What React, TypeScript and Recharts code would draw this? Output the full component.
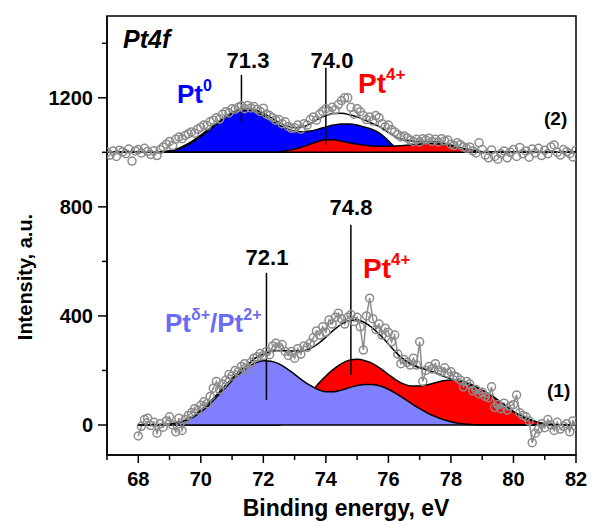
import React from "react";
import { ComposedChart, Area, Line, XAxis, YAxis, ReferenceLine, ReferenceArea } from "recharts";

const FONT = "Arial, 'Liberation Sans', sans-serif";

// energy grids (eV)
const range = (start: number, step: number, n: number) =>
    Array.from({ length: n }, (_, i) => Math.round((start + i * step) * 100) / 100);

const upperFitX = range(67, 0.25, 61);
const lowerFitX = range(68, 0.25, 57);
const upperRawX = range(67, 0.1, 151);
const lowerRawX = range(68, 0.1, 141);

// spectrum (2), fitted components on a 1000 offset
const pt0Fit = [
    1000, 1000, 1000, 1000, 1000, 1000, 1000, 1001,
    1004, 1010, 1022, 1038, 1058, 1080, 1103, 1125,
    1143, 1154, 1155, 1148, 1135, 1118, 1101, 1087,
    1078, 1075, 1078, 1085, 1093, 1100, 1104, 1104,
    1100, 1092, 1083, 1068, 1042, 1016, 1006, 1001,
    1000, 1000, 1000, 1000, 1000, 1000, 1000, 1000,
    1000, 1000, 1000, 1000, 1000, 1000, 1000, 1000,
    1000, 1000, 1000, 1000, 1000,
];
const pt4UpperFit = [
    1000, 1000, 1000, 1000, 1000, 1000, 1000, 1000,
    1000, 1000, 1000, 1000, 1000, 1000, 1000, 1000,
    1000, 1000, 1000, 1000, 1000, 1000, 1002, 1006,
    1012, 1020, 1030, 1040, 1046, 1046, 1041, 1035,
    1030, 1026, 1023, 1022, 1022, 1023, 1025, 1028,
    1031, 1032, 1032, 1029, 1024, 1017, 1010, 1005,
    1002, 1000, 1000, 1000, 1000, 1000, 1000, 1000,
    1000, 1000, 1000, 1000, 1000,
];
const upperEnvelope = [
    1000, 1000, 1000, 1000, 1000, 1000, 1000, 1002,
    1006, 1013, 1026, 1043, 1063, 1085, 1107, 1128,
    1146, 1157, 1160, 1155, 1143, 1127, 1110, 1097,
    1090, 1093, 1105, 1122, 1135, 1142, 1143, 1138,
    1130, 1118, 1105, 1092, 1073, 1055, 1046, 1042,
    1040, 1040, 1039, 1034, 1027, 1019, 1012, 1006,
    1002, 1000, 1000, 1000, 1000, 1000, 1000, 1000,
    1000, 1000, 1000, 1000, 1000,
];
const upperRaw = [
    1000, 990, 1005, 985, 1008, 1002, 995, 1012, 968, 1005,
    1010, 998, 1015, 1003, 992, 1006, 988, 1010, 1020, 1030,
    1040, 1025, 1048, 1056, 1050, 1062, 1068, 1075, 1070, 1085,
    1092, 1100, 1098, 1112, 1118, 1127, 1122, 1140, 1149, 1145,
    1160, 1158, 1165, 1170, 1160, 1172, 1163, 1168, 1158, 1150,
    1162, 1140, 1135, 1127, 1118, 1120, 1105, 1112, 1095, 1088,
    1090, 1100, 1085, 1105, 1100, 1120, 1130, 1118, 1140, 1150,
    1160, 1152, 1165, 1156, 1175, 1190, 1200, 1200, 1165, 1140,
    1160, 1149, 1135, 1120, 1130, 1115, 1135, 1127, 1105, 1094,
    1100, 1083, 1075, 1065, 1057, 1060, 1053, 1045, 1040, 1048,
    1038, 1050, 1045, 1052, 1040, 1048, 1038, 1050, 1042, 1045,
    1030, 1025, 1035, 1028, 1020, 1015, 1020, 1005, 998, 1035,
    1010, 990, 980, 1009, 985, 975, 995, 1005, 980, 1000,
    1010, 985, 1018, 995, 1005, 982, 1012, 998, 1015, 988,
    1008, 995, 1020, 1027, 1000, 990, 1010, 1002, 995, 983,
    1008,
];

// spectrum (1)
const ptDeltaFit = [
    0, 0, 0, 1, 3, 7, 15, 28,
    48, 72, 102, 132, 162, 190, 212, 228,
    236, 234, 224, 207, 186, 164, 145, 130,
    122, 122, 128, 137, 145, 149, 149, 143,
    131, 115, 97, 78, 60, 44, 31, 20,
    12, 6, 3, 1, 0, 0, 0, 0,
    0, 0, 0, 0, 0, 0, 0, 0,
    0,
];
const pt4LowerFit = [
    0, 0, 0, 0, 0, 0, 0, 0,
    0, 0, 0, 0, 0, 0, 0, 0,
    0, 0, 0, 15, 40, 75, 112, 150,
    180, 205, 225, 238, 241, 236, 225, 207,
    185, 165, 150, 143, 143, 148, 155, 162,
    165, 163, 156, 143, 127, 110, 90, 68,
    48, 32, 20, 11, 5, 2, 0, 0,
    0,
];
const lowerEnvelope = [
    0, 0, 0, 1, 3, 8, 17, 32,
    55, 80, 110, 140, 170, 198, 222, 245,
    260, 270, 273, 272, 271, 272, 280, 298,
    322, 348, 370, 383, 385, 375, 355, 328,
    297, 265, 240, 222, 210, 202, 192, 180,
    170, 162, 152, 140, 127, 112, 92, 70,
    50, 33, 20, 11, 5, 2, 0, 0,
    0,
];
const lowerRaw = [
    -40, -5, 20, 25, -2, 10, -30, 5, -8, 15,
    30, 0, -25, 25, -20, 20, 35, 45, 60, 55,
    72, 85, 78, 105, 135, 160, 130, 150, 165, 185,
    180, 200, 195, 215, 225, 205, 230, 245, 250, 262,
    255, 270, 258, 290, 300, 285, 295, 270, 255, 270,
    245, 280, 260, 290, 285, 300, 320, 345, 330, 360,
    340, 385, 370, 395, 410, 390, 370, 395, 405, 380,
    395, 360, 275, 400, 465, 390, 350, 370, 330, 355,
    340, 305, 330, 260, 225, 240, 230, 220, 245, 220,
    305, 160, 200, 215, 205, 225, 200, 195, 210, 190,
    195, 180, 175, 165, 140, 160, 150, 125, 130, 115,
    120, 105, 100, 140, 65, 75, 60, 80, 55, 70,
    75, 110, 45, 35, 30, 15, -65, -30, -15, 5,
    -10, 20, 0, -20, 10, -15, -5, 5, -25, 15,
    -5,
];

const xTicks = range(67, 1, 16);
const yTicks = [0, 200, 400, 600, 800, 1000, 1200, 1400];

const zip = (xs: number[], ys: number[]) => xs.map((x, i) => ({ x, y: ys[i] }));

const XTick = (props: any) => {
    const { x, y, payload } = props;
    const major = payload.value % 2 === 0;
    return (
        <g>
            <line x1={x} x2={x} y1={y} y2={y + (major ? 8 : 5)} stroke="#000" strokeWidth={1.5} />
            {major && (
                <text x={x} y={y + 31} textAnchor="middle" fontFamily={FONT} fontWeight="bold" fontSize={20} fill="#000">
                    {payload.value}
                </text>
            )}
        </g>
    );
};

const YTick = (props: any) => {
    const { x, y, payload } = props;
    const major = payload.value % 400 === 0;
    return (
        <g>
            <line x1={x} x2={x - (major ? 9 : 5)} y1={y} y2={y} stroke="#000" strokeWidth={1.5} />
            {major && (
                <text x={x - 14} y={y + 7} textAnchor="end" fontFamily={FONT} fontWeight="bold" fontSize={20} fill="#000">
                    {payload.value}
                </text>
            )}
        </g>
    );
};

export default function App() {
    const common = { isAnimationActive: false, dot: false, activeDot: false } as const;

    return (
        <div style={{ position: "absolute", left: 0, top: 0, width: 592, height: 522, background: "#fff" }}>
            <ComposedChart width={592} height={522} margin={{ top: 16, right: 16, bottom: 0, left: 0 }}>
                <XAxis
                    type="number"
                    dataKey="x"
                    domain={[67, 82]}
                    ticks={xTicks}
                    allowDataOverflow
                    height={67}
                    tickLine={false}
                    tickSize={0}
                    tickMargin={0}
                    tick={<XTick />}
                    stroke="#000"
                    strokeWidth={1.5}
                />
                <YAxis
                    type="number"
                    dataKey="y"
                    domain={[-110, 1500]}
                    ticks={yTicks}
                    allowDataOverflow
                    width={107}
                    tickLine={false}
                    tickSize={0}
                    tickMargin={0}
                    tick={<YTick />}
                    stroke="#000"
                    strokeWidth={1.5}
                />

                {/* spectrum (1) */}
                <Area data={zip(lowerFitX, pt4LowerFit)} dataKey="y" type="monotone" fill="#ff0000" fillOpacity={1} stroke="#000" strokeWidth={1.5} {...common} />
                <Area data={zip(lowerFitX, ptDeltaFit)} dataKey="y" type="monotone" fill="#8080ff" fillOpacity={1} stroke="#000" strokeWidth={1.5} {...common} />
                <ReferenceLine segment={[{ x: 68, y: 0 }, { x: 82, y: 0 }]} stroke="#000" strokeWidth={1.5} />
                <Line data={zip(lowerRawX, lowerRaw)} dataKey="y" type="linear" stroke="#8c8c8c" strokeWidth={1.5}
                    isAnimationActive={false} activeDot={false}
                    dot={{ r: 4, stroke: "#8c8c8c", strokeWidth: 1.5, fill: "none" }} />
                <Line data={zip(lowerFitX, lowerEnvelope)} dataKey="y" type="monotone" stroke="#000" strokeWidth={1.5} {...common} />

                {/* spectrum (2) */}
                <Area data={zip(upperFitX, pt0Fit)} dataKey="y" type="monotone" baseValue={1000} fill="#0000ff" fillOpacity={1} stroke="#000" strokeWidth={1.5} {...common} />
                <Area data={zip(upperFitX, pt4UpperFit)} dataKey="y" type="monotone" baseValue={1000} fill="#ff0000" fillOpacity={1} stroke="#000" strokeWidth={1.5} {...common} />
                <ReferenceLine segment={[{ x: 67, y: 1000 }, { x: 82, y: 1000 }]} stroke="#000" strokeWidth={1.5} />
                <Line data={zip(upperRawX, upperRaw)} dataKey="y" type="linear" stroke="none"
                    isAnimationActive={false} activeDot={false}
                    dot={{ r: 4, stroke: "#8c8c8c", strokeWidth: 1.5, fill: "none" }} />
                <Line data={zip(upperFitX, upperEnvelope)} dataKey="y" type="monotone" stroke="#000" strokeWidth={1.5} {...common} />

                {/* peak markers */}
                <ReferenceLine segment={[{ x: 71.3, y: 1284 }, { x: 71.3, y: 1108 }]} stroke="#000" strokeWidth={1.5} />
                <ReferenceLine segment={[{ x: 74.0, y: 1310 }, { x: 74.0, y: 1028 }]} stroke="#000" strokeWidth={1.5} />
                <ReferenceLine segment={[{ x: 72.1, y: 558 }, { x: 72.1, y: 92 }]} stroke="#000" strokeWidth={1.5} />
                <ReferenceLine segment={[{ x: 74.8, y: 734 }, { x: 74.8, y: 183 }]} stroke="#000" strokeWidth={1.5} />

                <ReferenceArea x1={67} x2={82} y1={-110} y2={1500} fill="none" stroke="#000" strokeWidth={1.5} />
            </ComposedChart>

            <svg width={592} height={522} style={{ position: "absolute", left: 0, top: 0, pointerEvents: "none" }}
                fontFamily={FONT} fontWeight="bold">
                <text x={123} y={48} fontSize={25} fontStyle="italic">Pt4f</text>
                <text x={248} y={68} fontSize={22} textAnchor="middle">71.3</text>
                <text x={332} y={68} fontSize={22} textAnchor="middle">74.0</text>
                <text x={177} y={103} fontSize={26} fill="#0000ff">
                    Pt<tspan fontSize={16} dy={-12}>0</tspan>
                </text>
                <text x={358} y={93} fontSize={28} fill="#ff0000">
                    Pt<tspan fontSize={17} dy={-13}>4+</tspan>
                </text>
                <text x={544} y={125} fontSize={19}>(2)</text>

                <text x={267} y={265} fontSize={22} textAnchor="middle">72.1</text>
                <text x={351} y={215} fontSize={22} textAnchor="middle">74.8</text>
                <text x={363} y={278} fontSize={28} fill="#ff0000">
                    Pt<tspan fontSize={17} dy={-13}>4+</tspan>
                </text>
                <text x={165} y={332} fontSize={26} fill="#6b6bf5">
                    Pt<tspan fontSize={16} dy={-12}>δ+</tspan>
                    <tspan dy={12}>/Pt</tspan>
                    <tspan fontSize={16} dy={-12}>2+</tspan>
                </text>
                <text x={547} y={397} fontSize={19}>(1)</text>

                <text x={346} y={516} fontSize={23} textAnchor="middle">Binding energy, eV</text>
                <text x={0} y={0} fontSize={20} textAnchor="middle" transform="translate(32 277) rotate(-90)">
                    Intensity, a.u.
                </text>
            </svg>
        </div>
    );
}
